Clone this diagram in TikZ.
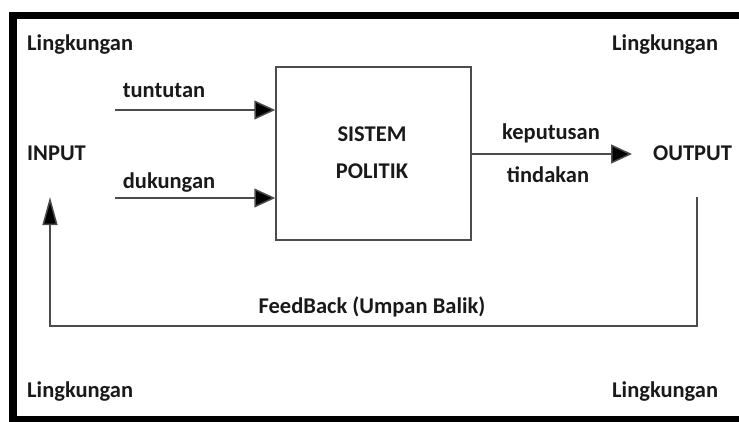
\documentclass[tikz,border=0pt]{standalone}
\usepackage{fontspec}
\setmainfont{Carlito}
\usetikzlibrary{arrows.meta}
\begin{document}
\begin{tikzpicture}[x=1pt,y=-1pt,
  lbl/.style={font=\fontsize{22.5}{26}\selectfont\bfseries, inner sep=0pt, text=black!90},
  ln/.style={draw=black!70, line width=1.5pt},
  arr/.style={ln, -{Triangle[length=21pt,width=19pt,fill=black]}},
  farr/.style={ln, -{Triangle[length=28pt,width=15pt,fill=black]}}]
\useasboundingbox (0,0) rectangle (739,421);
\begin{scope}
\clip (0,0) rectangle (739,421);
\draw[line width=7.5pt, black] (13,15.5) rectangle (780,419.5);
\end{scope}
% environment labels
\node[lbl, anchor=west] (l1) at (27,45) {Lingkungan};
\node[lbl, anchor=west] (l2) at (612,45) {Lingkungan};
\node[lbl, anchor=west] (l3) at (27,392) {Lingkungan};
\node[lbl, anchor=west] (l4) at (612,392) {Lingkungan};
% system box
\node[ln, minimum width=195pt, minimum height=173pt, inner sep=0pt] (box) at (373.5,153.5) {};
\node[lbl] (s1) at (372,134) {SISTEM};
\node[lbl] (s2) at (372,171) {POLITIK};
% input/output
\node[lbl, anchor=west] (inp) at (27,153) {INPUT};
\node[lbl, anchor=west] (outp) at (653,153) {OUTPUT};
\node[lbl] (tun) at (164,90) {tuntutan};
\node[lbl] (duk) at (169,183) {dukungan};
\node[lbl] (kep) at (551,133) {keputusan};
\node[lbl] (tin) at (548,175) {tindakan};
\node[lbl] (fb) at (372,307) {FeedBack (Umpan Balik)};
% connectors
\coordinate (t0) at (115,110);
\coordinate (d0) at (115,198);
\coordinate (o0) at (471,154);
\coordinate (o1) at (632,154);
\coordinate (f0) at (697,197);
\coordinate (f1) at (697,326);
\coordinate (f2) at (50,326);
\coordinate (f3) at (50,197);
\draw[arr] (t0) -- (box.west |- t0);
\draw[arr] (d0) -- (box.west |- d0);
\draw[arr] (box.east |- o0) -- (o1);
\draw[farr] (f0) -- (f1) -- (f2) -- (f3);
\end{tikzpicture}
\end{document}
